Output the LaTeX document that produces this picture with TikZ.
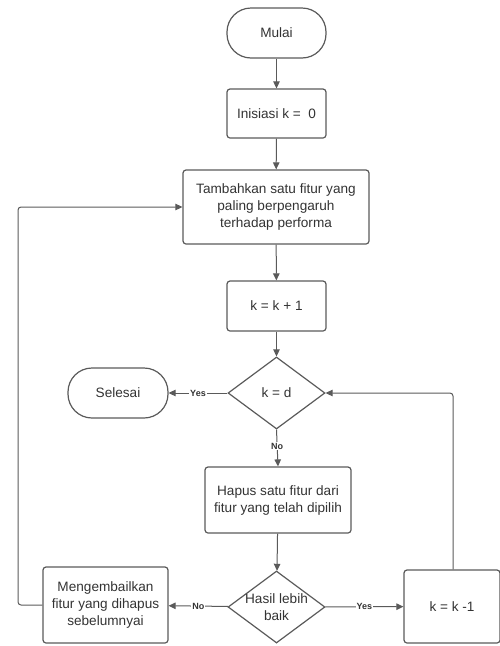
\documentclass[tikz,border=0pt]{standalone}
\usepackage{fontspec}
\setmainfont{Liberation Sans}
\usetikzlibrary{shapes.geometric,arrows.meta}
\definecolor{strk}{HTML}{5A5A5A}
\definecolor{txt}{HTML}{333333}
\begin{document}
\begin{tikzpicture}[x=1pt,y=-1pt,
  every node/.style={font=\fontsize{13.6}{17}\selectfont, text=txt},
  box/.style={draw=strk, line width=1.2pt, rounded corners=3pt, inner sep=0pt, align=center},
  term/.style={draw=strk, line width=1.2pt, rounded corners=24pt, inner sep=0pt, align=center},
  dec/.style={draw=strk, line width=1.2pt, diamond, inner sep=0pt, minimum width=97pt, minimum height=72pt},
  arr/.style={draw=strk, line width=1pt, -{Triangle[length=7pt,width=6.5pt]}},
  lab/.style={font=\bfseries\fontsize{9}{10}\selectfont, fill=white, inner sep=1pt, text=txt}
]
\useasboundingbox (0,0) rectangle (500,646);
\node[term, minimum width=99pt, minimum height=50pt] (mulai) at (276.5,33) {Mulai};
\node[box, minimum width=99pt, minimum height=49pt] (init) at (276.5,113.5) {Inisiasi k = ~0};
\node[box, minimum width=186pt, minimum height=74pt] (tambah) at (276,207) {Tambahkan satu fitur yang\\paling berpengaruh\\terhadap performa};
\node[box, minimum width=99pt, minimum height=50pt] (inc) at (276.5,306) {k = k + 1};
\node[dec, label={center:k = d}] (kd) at (276.5,393) {};
\node[term, minimum width=100pt, minimum height=50pt] (selesai) at (118,393) {Selesai};
\node[box, minimum width=146pt, minimum height=66pt] (hapus) at (278,500) {Hapus satu fitur dari\\fitur yang telah dipilih};
\node[dec, label={[align=center]center:Hasil lebih\\baik}] (hasil) at (276.5,607) {};
\node[box, minimum width=125pt, minimum height=76pt] (kembali) at (105.5,605) {Mengembailkan\\fitur yang dihapus\\sebelumnyai};
\node[box, minimum width=96pt, minimum height=73pt] (dec1) at (452,606.5) {k = k -1};
\coordinate (lc) at (18,207);
\coordinate (rc) at (453,393);

\draw[arr] (mulai) -- (init);
\draw[arr] (init) -- (tambah);
\draw[arr] (tambah) -- (inc);
\draw[arr] (inc) -- (kd);
\draw[arr] (kd) -- node[lab, pos=0.5] (yes1) {Yes} (selesai);
\draw[arr] (kd.south) -- node[lab, pos=0.45] (no1) {No} (hapus.north);
\draw[arr] (hapus) -- (hasil);
\draw[arr] (hasil) -- node[lab] (no2) {No} (kembali);
\draw[arr] (hasil) -- node[lab] (yes2) {Yes} (dec1);
\draw[arr, rounded corners=3pt] (dec1.north -| rc) -- (rc) -- (kd.east);
\draw[arr, rounded corners=3pt] (kembali.west) -| (lc) -- (tambah.west);
\end{tikzpicture}
\end{document}
